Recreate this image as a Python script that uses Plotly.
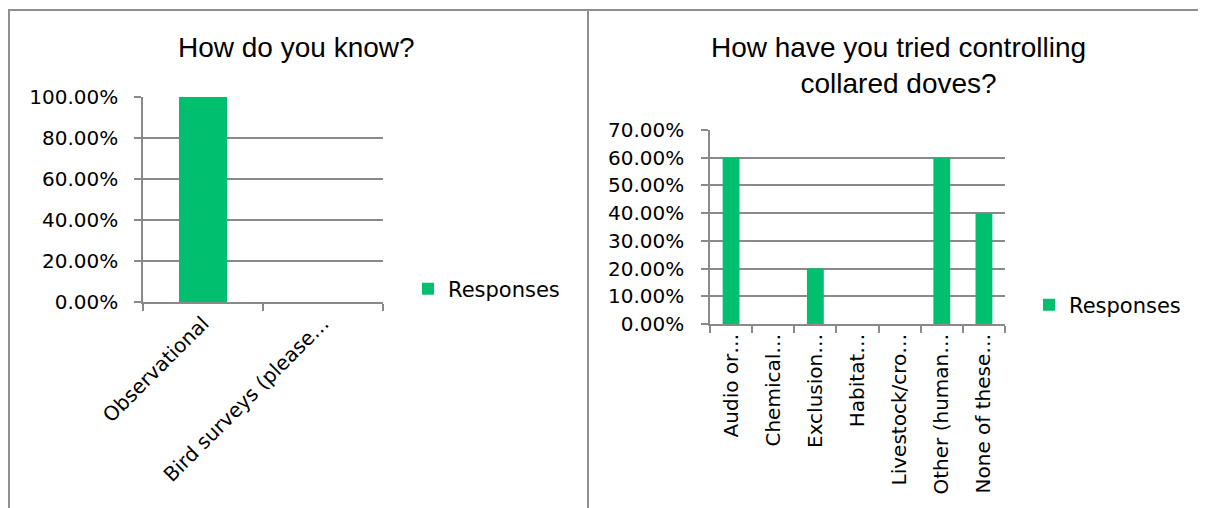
import plotly.graph_objects as go

# the page body has an 8px margin, so the figure is laid out in page pixels minus 8
OX, OY = 8, 8
W, H = 1198, 500

know_categories = ["Observational", "Bird surveys (please…"]
know_values = [1.0, 0.0]

control_categories = [
    "Audio or…",
    "Chemical…",
    "Exclusion…",
    "Habitat…",
    "Livestock/cro…",
    "Other (human…",
    "None of these…",
]
control_values = [0.6, 0.0, 0.2, 0.0, 0.0, 0.6, 0.4]

GREEN = "#00BF6F"
GRID = "#8a8a8a"
FRAME = "#8f8f8f"
TICK_FONT = dict(family="DejaVu Sans", size=20, color="#000000")
LEGEND_FONT = dict(family="DejaVu Sans", size=21, color="#000000")
TITLE_FONT = dict(family="Liberation Sans", size=28, color="#000000")


def px(x):
    return (x - OX) / W


def py(y):
    return 1 - (y - OY) / H


fig = go.Figure()

fig.add_trace(
    go.Bar(
        x=know_categories,
        y=know_values,
        marker=dict(color=GREEN, line=dict(width=0)),
        name="Responses",
        xaxis="x",
        yaxis="y",
        legend="legend",
        showlegend=True,
    )
)
fig.add_trace(
    go.Bar(
        x=control_categories,
        y=control_values,
        marker=dict(color=GREEN, line=dict(width=0)),
        name="Responses",
        xaxis="x2",
        yaxis="y2",
        legend="legend2",
        showlegend=True,
    )
)

axis_common = dict(
    showline=True,
    linecolor=GRID,
    linewidth=1.5,
    ticks="outside",
    ticklen=7,
    tickcolor=GRID,
    tickwidth=1.5,
    tickfont=TICK_FONT,
    automargin=False,
)

legend_common = dict(
    xanchor="left",
    yanchor="middle",
    xref="paper",
    yref="paper",
    font=LEGEND_FONT,
    bgcolor="rgba(0,0,0,0)",
)

fig.update_layout(
    width=W,
    height=H,
    autosize=False,
    showlegend=True,
    margin=dict(l=0, r=0, t=0, b=0, pad=0, autoexpand=False),
    paper_bgcolor="white",
    plot_bgcolor="white",
    bargap=0.6,
    xaxis=dict(
        domain=[px(143), px(383)],
        anchor="y",
        type="category",
        range=[-0.5, 1.5],
        tickson="boundaries",
        tickangle=-45,
        showgrid=False,
        **axis_common,
    ),
    yaxis=dict(
        domain=[py(302), py(97)],
        anchor="x",
        range=[0, 1],
        dtick=0.2,
        tickformat=".2%",
        showgrid=True,
        gridcolor=GRID,
        gridwidth=1.5,
        zeroline=False,
        ticklabelstandoff=12,
        **axis_common,
    ),
    xaxis2=dict(
        domain=[px(710), px(1005)],
        anchor="y2",
        type="category",
        range=[-0.5, 6.5],
        tickson="boundaries",
        tickangle=-90,
        showgrid=False,
        **axis_common,
    ),
    yaxis2=dict(
        domain=[py(324), py(130)],
        anchor="x2",
        range=[0, 0.7],
        dtick=0.1,
        tickformat=".2%",
        showgrid=True,
        gridcolor=GRID,
        gridwidth=1.5,
        zeroline=False,
        ticklabelstandoff=13,
        **axis_common,
    ),
    legend=dict(x=px(408), y=py(289), **legend_common),
    legend2=dict(x=px(1029), y=py(305), **legend_common),
    annotations=[
        dict(
            text="How do you know?",
            x=px(296),
            y=py(48),
            xref="paper",
            yref="paper",
            xanchor="center",
            yanchor="middle",
            showarrow=False,
            font=TITLE_FONT,
        ),
        dict(
            text="How have you tried controlling<br>collared doves?",
            x=px(898),
            y=py(66),
            xref="paper",
            yref="paper",
            xanchor="center",
            yanchor="middle",
            showarrow=False,
            font=TITLE_FONT,
        ),
    ],
    shapes=[
        # outer frame and divider between the two charts
        dict(type="line", xref="paper", yref="paper", x0=0, x1=1, y0=py(10), y1=py(10),
             line=dict(color=FRAME, width=2)),
        dict(type="line", xref="paper", yref="paper", x0=px(9), x1=px(9), y0=py(10), y1=0,
             line=dict(color=FRAME, width=2)),
        dict(type="line", xref="paper", yref="paper", x0=px(588), x1=px(588), y0=py(10), y1=0,
             line=dict(color=FRAME, width=2)),
    ],
)

fig.write_html("out.html")
